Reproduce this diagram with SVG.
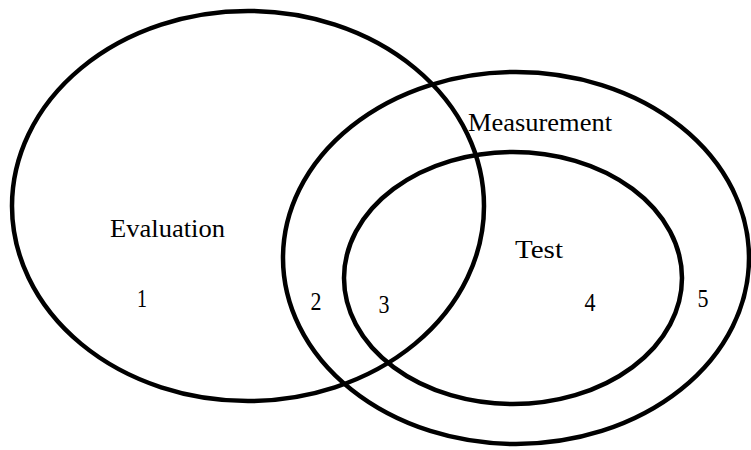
<svg xmlns="http://www.w3.org/2000/svg" width="751" height="450" viewBox="0 0 751 450">
<style>
.c{fill:none;stroke:#000;stroke-width:4.5}
text{font-family:"Liberation Serif","DejaVu Serif",serif;font-size:26px;fill:#000}
.n{text-anchor:middle;font-size:25px}
</style>
<rect width="751" height="450" fill="#fff"/>
<g id="evaluation">
<ellipse class="c" cx="248" cy="206" rx="236" ry="195"/>
<text x="110" y="237" textLength="115" lengthAdjust="spacingAndGlyphs">Evaluation</text>
</g>
<g id="measurement">
<ellipse class="c" cx="516" cy="258" rx="233" ry="186"/>
<text x="468" y="131" textLength="144" lengthAdjust="spacingAndGlyphs">Measurement</text>
</g>
<g id="test">
<ellipse class="c" cx="513" cy="278" rx="169" ry="126"/>
<text x="515" y="258" textLength="48" lengthAdjust="spacingAndGlyphs">Test</text>
</g>
<g id="regions">
<text class="n" x="142" y="307" textLength="10" lengthAdjust="spacingAndGlyphs">1</text>
<text class="n" x="316" y="310" textLength="11" lengthAdjust="spacingAndGlyphs">2</text>
<text class="n" x="384" y="313" textLength="11" lengthAdjust="spacingAndGlyphs">3</text>
<text class="n" x="590" y="311" textLength="11" lengthAdjust="spacingAndGlyphs">4</text>
<text class="n" x="703" y="307" textLength="11" lengthAdjust="spacingAndGlyphs">5</text>
</g>
</svg>
